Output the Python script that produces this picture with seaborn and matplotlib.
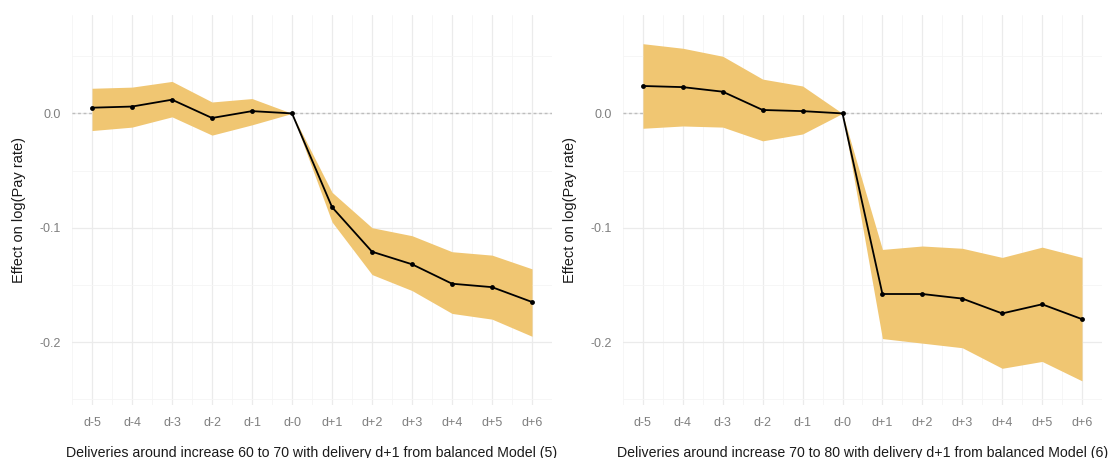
import numpy as np
import pandas as pd
import seaborn as sns
import matplotlib.pyplot as plt
from matplotlib.ticker import MultipleLocator

# event-time categories
periods = ["d-5", "d-4", "d-3", "d-2", "d-1", "d-0", "d+1", "d+2", "d+3", "d+4", "d+5", "d+6"]

# Model (5): increase 60 to 70
est_60_70 = [0.005, 0.006, 0.012, -0.004, 0.002, 0.0, -0.082, -0.121, -0.132, -0.149, -0.152, -0.165]
upper_60_70 = [0.022, 0.023, 0.028, 0.010, 0.013, 0.0, -0.069, -0.100, -0.107, -0.121, -0.124, -0.136]
lower_60_70 = [-0.015, -0.012, -0.003, -0.019, -0.010, 0.0, -0.095, -0.141, -0.155, -0.175, -0.180, -0.195]

# Model (6): increase 70 to 80
est_70_80 = [0.024, 0.023, 0.019, 0.003, 0.002, 0.0, -0.158, -0.158, -0.162, -0.175, -0.167, -0.180]
upper_70_80 = [0.061, 0.057, 0.050, 0.030, 0.024, 0.0, -0.119, -0.116, -0.118, -0.126, -0.117, -0.126]
lower_70_80 = [-0.013, -0.011, -0.012, -0.024, -0.018, 0.0, -0.197, -0.201, -0.205, -0.223, -0.217, -0.234]

xlabels = [
    "Deliveries around increase 60 to 70 with delivery d+1 from balanced Model (5)",
    "Deliveries around increase 70 to 80 with delivery d+1 from balanced Model (6)",
]

sns.set_theme(style="white")
plt.rcParams['font.family'] = ['Liberation Sans', 'DejaVu Sans']

fig = plt.figure(figsize=(11.13, 4.58), dpi=100)
ax1 = fig.add_axes([0.0647, 0.116, 0.4313, 0.851])
ax2 = fig.add_axes([0.5597, 0.116, 0.4304, 0.851])

panels = [
    (ax1, est_60_70, lower_60_70, upper_60_70, xlabels[0]),
    (ax2, est_70_80, lower_70_80, upper_70_80, xlabels[1]),
]

fill_col = "#F0C672"
grid_major = "#EBEBEB"
grid_minor = "#F5F5F5"

for ax, est, lo, hi, xlab in panels:
    df = pd.DataFrame({"period": periods, "pos": np.arange(len(periods)),
                       "est": est, "lo": lo, "hi": hi})

    # grid like theme_minimal
    ax.xaxis.set_minor_locator(MultipleLocator(0.5))
    ax.yaxis.set_major_locator(MultipleLocator(0.1))
    ax.yaxis.set_minor_locator(MultipleLocator(0.05))
    ax.grid(True, which="major", color=grid_major, linewidth=0.9)
    ax.grid(True, which="minor", color=grid_minor, linewidth=0.6)
    ax.set_axisbelow(True)

    ax.axhline(0, color="#BDBDBD", linestyle=(0, (2, 2)), linewidth=1.0, zorder=1)
    ax.fill_between(df["pos"], df["lo"], df["hi"], color=fill_col, linewidth=0, zorder=2)
    sns.lineplot(data=df, x="pos", y="est", ax=ax, color="black", linewidth=1.3,
                 marker="o", markersize=3.5, markeredgewidth=0, zorder=3)

    ax.set_xlim(-0.5, 11.5)
    ax.set_ylim(-0.255, 0.086)
    ax.set_xticks(df["pos"])
    ax.set_xticklabels(periods)
    ax.set_yticks([0.0, -0.1, -0.2])
    ax.set_yticklabels(["0.0", "-0.1", "-0.2"])
    ax.tick_params(axis="both", which="both", length=0, labelsize=9,
                   labelcolor="#7F7F7F", pad=8)
    ax.tick_params(axis="x", pad=9)
    for s in ax.spines.values():
        s.set_visible(False)

    ax.set_xlabel(xlab, fontsize=10.2, color="#1A1A1A", labelpad=12)
    ax.set_ylabel("Effect on log(Pay rate)", fontsize=10.5, color="#1A1A1A", labelpad=10)

fig.savefig("out.png", dpi=100, facecolor="white")
